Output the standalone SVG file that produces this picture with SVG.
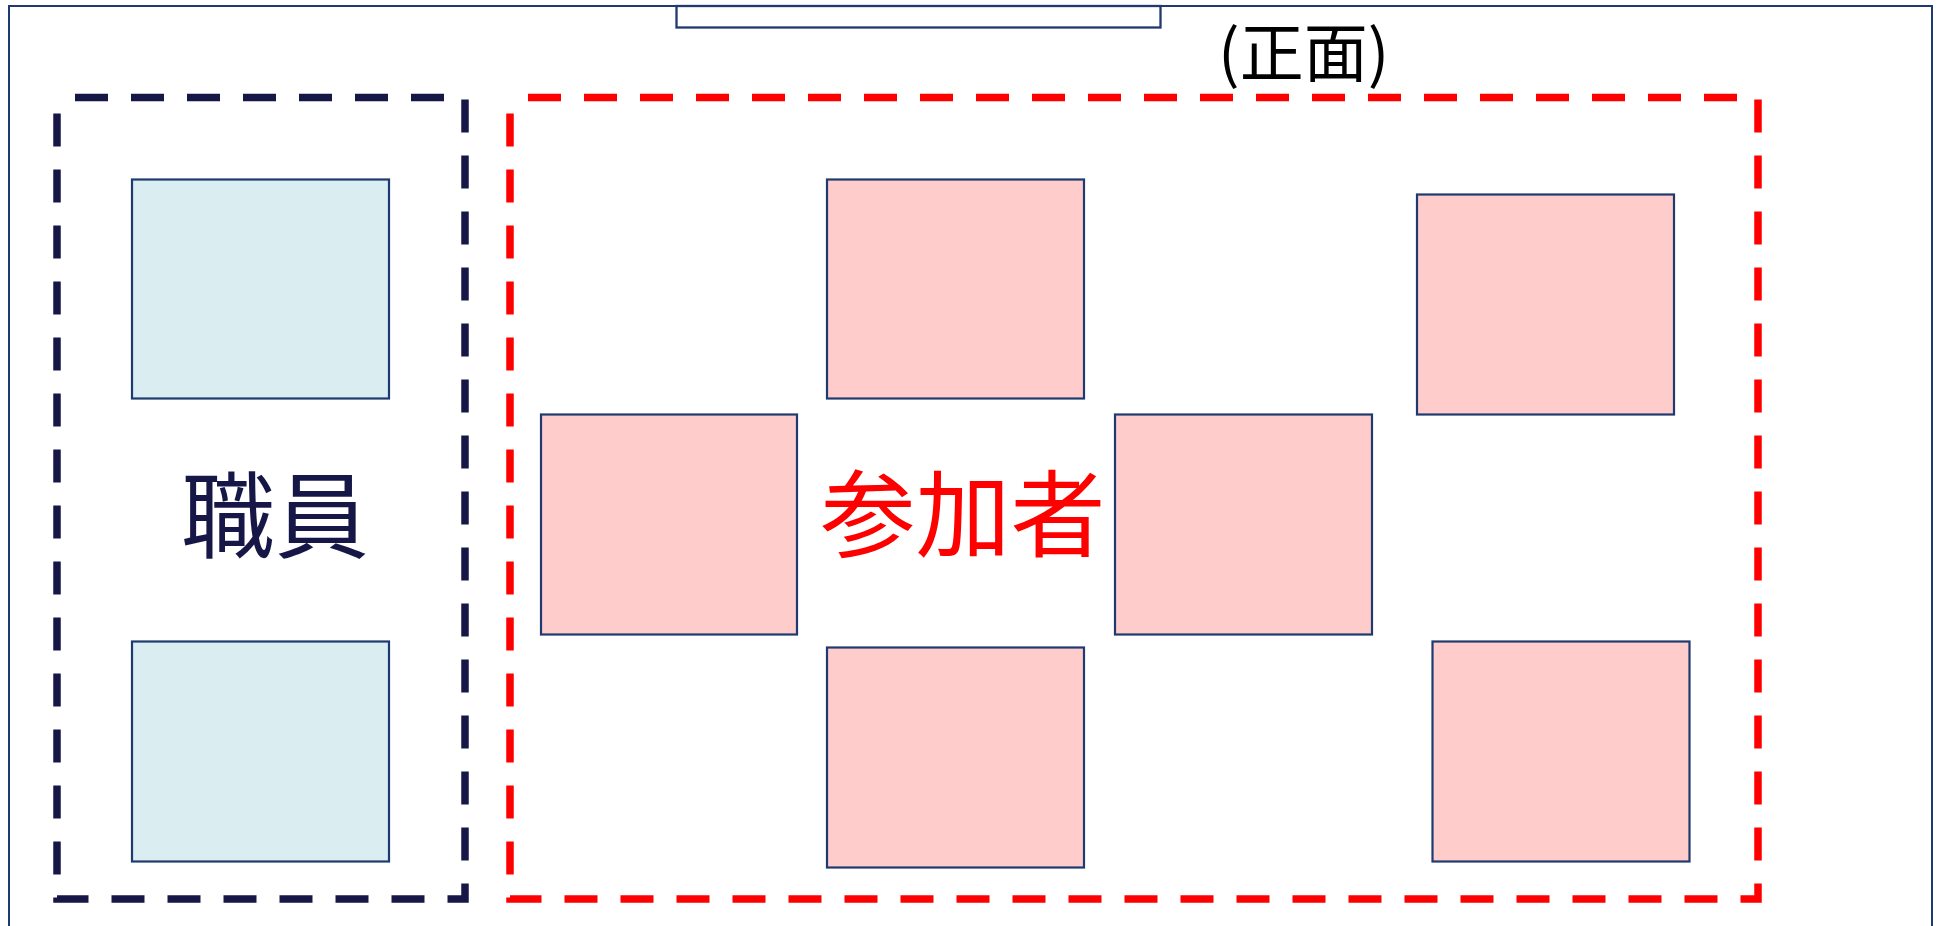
<svg xmlns="http://www.w3.org/2000/svg" width="1941" height="926" viewBox="0 0 1941 926">
<style>
.node{stroke:#1F3A70;stroke-width:2.2}
.staff{fill:#DAEDF0}
.part{fill:#FDCCCB}
.zone{fill:none;stroke-width:7.5;stroke-dasharray:33 23;stroke-dashoffset:38}
.lbl{font-family:"Noto Sans CJK JP","Noto Sans CJK SC",sans-serif}
</style>
<rect width="1941" height="926" fill="#ffffff"/>
<g id="frame">
<rect x="9" y="6" width="1923" height="940" fill="none" stroke="#1F3A70" stroke-width="2"/>
</g>
<g id="front">
<rect x="676.5" y="6" width="484" height="21.5" fill="#ffffff" stroke="#1F3A70" stroke-width="2.3"/>
<text class="lbl" x="1218" y="76" font-size="64" fill="#000000">(正面)</text>
</g>
<g id="connectors"></g>
<g id="staff-zone">
<path class="zone" stroke="#171747" d="M57 97.5 H465 V899 H57 Z"/>
<text class="lbl" x="275" y="551" font-size="94" fill="#171747" text-anchor="middle">職員</text>
</g>
<g id="participant-zone">
<path class="zone" stroke="#FF0000" d="M510 97.5 H1758 V899 H510 Z"/>
<text class="lbl" x="963" y="550" font-size="95" fill="#FF0000" text-anchor="middle">参加者</text>
</g>
<g id="staff-1"><rect class="node staff" x="132" y="179.5" width="257" height="219"/></g>
<g id="staff-2"><rect class="node staff" x="132" y="641.5" width="257" height="220"/></g>
<g id="part-1"><rect class="node part" x="827" y="179.5" width="257" height="219"/></g>
<g id="part-2"><rect class="node part" x="1417" y="194.5" width="257" height="220"/></g>
<g id="part-3"><rect class="node part" x="541" y="414.5" width="256" height="220"/></g>
<g id="part-4"><rect class="node part" x="1115" y="414.5" width="257" height="220"/></g>
<g id="part-5"><rect class="node part" x="827" y="647.5" width="257" height="220"/></g>
<g id="part-6"><rect class="node part" x="1432.5" y="641.5" width="257" height="220"/></g>
</svg>
